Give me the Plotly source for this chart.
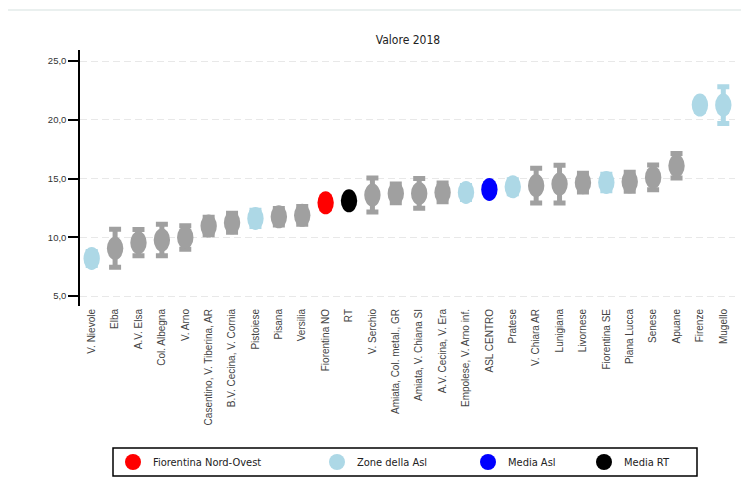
import plotly.graph_objects as go

categories = ["V. Nievole", "Elba", "A.V. Elsa", "Col. Albegna", "V. Arno",
              "Casentino, V. Tiberina, AR", "B.V. Cecina, V. Cornia", "Pistoiese",
              "Pisana", "Versilia", "Fiorentina NO", "RT", "V. Serchio",
              "Amiata, Col. metal., GR", "Amiata, V. Chiana SI", "A.V. Cecina, V. Era",
              "Empolese, V. Arno inf.", "ASL CENTRO", "Pratese", "V. Chiara AR",
              "Lunigiana", "Livornese", "Fiorentina SE", "Piana Lucca", "Senese",
              "Apuane", "Firenze", "Mugello"]
values = [8.2, 9.06, 9.54, 9.77, 9.99, 10.96, 11.24, 11.61, 11.75, 11.87,
          12.94, 13.11, 13.6, 13.74, 13.74, 13.82, 13.82, 14.08, 14.3, 14.4,
          14.53, 14.65, 14.67, 14.73, 15.1, 16.09, 21.26, 21.26]
ci_err = [0.6, 1.62, 1.12, 1.35, 1.0, 0.75, 0.8, 0.7, 0.7, 0.75,
          0.5, 0.3, 1.45, 0.8, 1.26, 0.8, 0.6, 0.3, 0.6, 1.47,
          1.6, 0.8, 0.7, 0.8, 1.05, 1.05, 0.5, 1.57]
groups = ["zone", "other", "other", "other", "other", "other", "other", "zone",
          "other", "other", "fno", "rt", "other", "other", "other", "other",
          "zone", "asl", "zone", "other", "other", "other", "zone", "other",
          "other", "other", "zone", "zone"]
y_ticks = [5, 10, 15, 20, 25]
legend_labels = ["Fiorentina Nord-Ovest", "Zone della Asl", "Media Asl", "Media RT"]
legend_groups = ["fno", "zone", "asl", "rt"]

colors = {"other": "#a0a0a0", "zone": "#add8e6", "fno": "#ff0000",
          "asl": "#0000ff", "rt": "#000000"}

NARROW = "DejaVu Sans Condensed, Liberation Sans Narrow, Arial Narrow, sans-serif"
SANS = "Liberation Sans, Arial, sans-serif"

OFF = 8  # page body margin offset
W, H = 749, 493
L, R, T, B = 80 - OFF, 14 + OFF, 50 - OFF, 187 + OFF
pw, ph = W - L - R, H - T - B
def px_x(px):
    return (px - OFF - L) / pw
def px_y(py):
    return (H - B - (py - OFF)) / ph

fig = go.Figure()
xs = list(range(len(categories)))

# error bars per colour group
for g, col in colors.items():
    idx = [i for i in xs if groups[i] == g]
    if not idx:
        continue
    fig.add_trace(go.Scatter(
        x=idx, y=[values[i] for i in idx], mode="markers",
        marker=dict(size=2, color=col),
        error_y=dict(type="data", array=[ci_err[i] for i in idx],
                     color=col, thickness=5, width=6),
        showlegend=False, hoverinfo="skip"))

# elliptical markers as shapes in data coordinates
for i in xs:
    col = colors[groups[i]]
    fig.add_shape(type="circle", xref="x", yref="y",
                  x0=i - 0.35, x1=i + 0.35,
                  y0=values[i] - 0.98, y1=values[i] + 0.98,
                  fillcolor=col, line=dict(color=col, width=0), layer="above")

# legends
leg_marker_px = [133, 337, 488, 604]
for k, (lab, g) in enumerate(zip(legend_labels, legend_groups)):
    lname = "legend" if k == 0 else f"legend{k+1}"
    fig.add_trace(go.Scatter(
        x=[None], y=[None], mode="markers", name=lab,
        marker=dict(size=16, color=colors[g]),
        showlegend=True, legend=lname))
    fig.update_layout({lname: dict(
        x=px_x(leg_marker_px[k] - 20), y=px_y(462),
        xanchor="left", yanchor="middle", orientation="h",
        bgcolor="rgba(0,0,0,0)", borderwidth=0,
        font=dict(family=NARROW, size=11, color="#222"),
        itemsizing="trace")})

# legend box
fig.add_shape(type="rect", xref="paper", yref="paper",
              x0=px_x(113), x1=px_x(697), y0=px_y(476), y1=px_y(448),
              line=dict(color="#000", width=1.5), fillcolor="rgba(0,0,0,0)",
              layer="below")
# faint outer frame
fig.add_shape(type="rect", xref="paper", yref="paper",
              x0=px_x(7), x1=px_x(770), y0=px_y(520), y1=px_y(10),
              line=dict(color="#e4ecea", width=1.5), fillcolor="rgba(0,0,0,0)",
              layer="below")

fig.update_layout(
    width=W, height=H, margin=dict(l=L, r=R, t=T, b=B),
    paper_bgcolor="white", plot_bgcolor="white",
    separators=",.",
    title=dict(text="Valore 2018", x=px_x(408), xref="paper", xanchor="center",
               y=1 - (40 - OFF) / H, yanchor="middle",
               font=dict(family=NARROW, size=12, color="#222")),
    xaxis=dict(range=[-0.5, len(categories) - 0.5], tickmode="array",
               tickvals=xs, ticktext=categories, tickangle=-90,
               tickfont=dict(family=SANS, size=10, color="#444"),
               showgrid=False, zeroline=False, showline=False, ticks=""),
    yaxis=dict(range=[4.15, 25.95], tickmode="array", tickvals=y_ticks,
               tickformat=".1f", ticks="outside", ticklen=10, tickwidth=1.5,
               tickcolor="#000", showline=True, linecolor="#000", linewidth=1.5,
               showgrid=True, gridcolor="#e8e8e8", gridwidth=1, griddash="7px,4px",
               zeroline=False,
               tickfont=dict(family=SANS, size=9.5, color="#333")),
)

fig.write_html("out.html")
